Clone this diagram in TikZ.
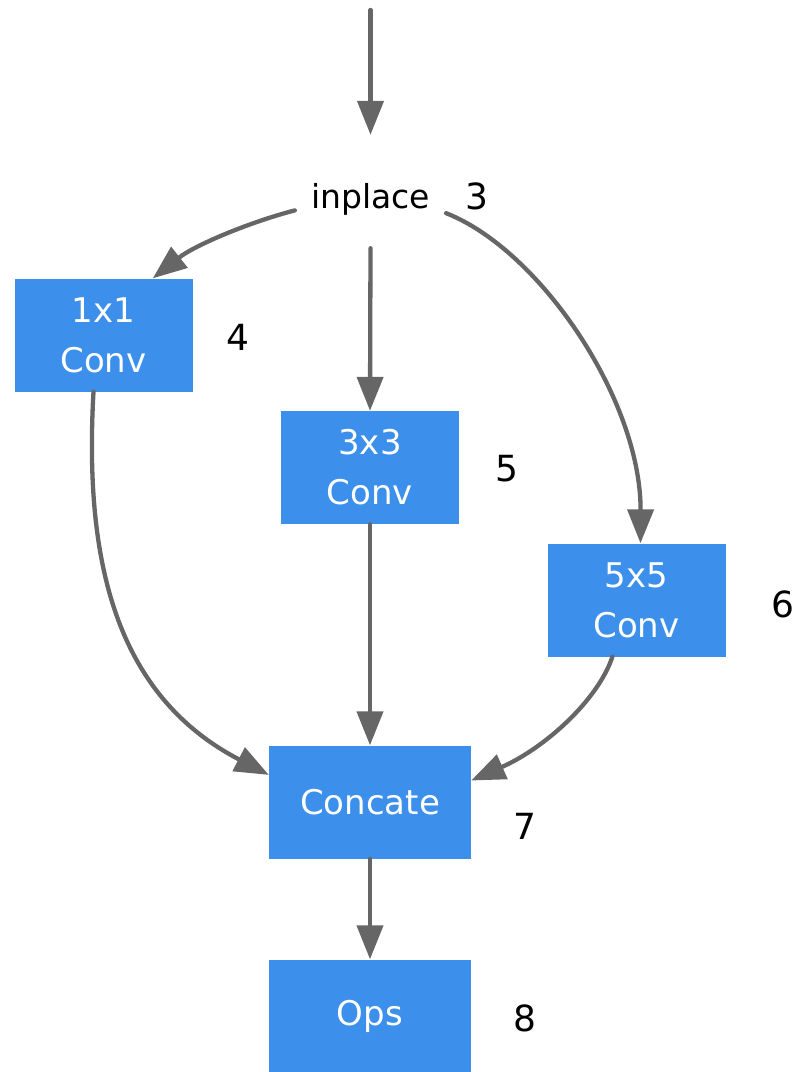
\documentclass[tikz,border=0pt]{standalone}
\usepackage{fontspec}
\setmainfont{DejaVu Sans}
\usetikzlibrary{arrows.meta}
\definecolor{boxblue}{HTML}{3C8FEA}
\definecolor{linegray}{HTML}{666666}
\tikzset{
  blk/.style={fill=boxblue, text=white, inner sep=0pt, align=center,
    font=\fontsize{34}{50}\selectfont},
  convbox/.style={blk, minimum width=178pt, minimum height=113pt},
  widebox/.style={blk, minimum width=202pt, minimum height=113pt},
  numlbl/.style={font=\fontsize{36}{36}\selectfont, text=black, inner sep=0pt},
  arr/.style={draw=linegray, line width=4.3pt, line cap=round,
    -{Triangle[length=34pt, width=26pt]}}
}
\begin{document}
\begin{tikzpicture}[x=1pt, y=-1pt]
\useasboundingbox (0,0) rectangle (799,1072);
\coordinate (top) at (370.5,10);
\node[anchor=base, inner sep=0pt, minimum width=151pt, text height=73pt, text depth=40pt,
  font=\fontsize{33}{33}\selectfont] (inplace) at (370.5,208) {inplace};
\node[convbox] (conv1) at (103.5,335) {1x1\\Conv};
\node[convbox] (conv3) at (370,467.5) {3x3\\Conv};
\node[convbox] (conv5) at (636.5,600) {5x5\\Conv};
\node[widebox] (concate) at (370,802) {Concate};
\node[widebox] (ops) at (370,1016) {Ops};
\node[numlbl] (n3) at (477,196) {3};
\node[numlbl] (n4) at (238,337) {4};
\node[numlbl] (n5) at (507,469) {5};
\node[numlbl] (n6) at (783,604) {6};
\node[numlbl] (n7) at (525,826) {7};
\node[numlbl] (n8) at (525,1018) {8};
\draw[arr] (top) -- (inplace.north);
\draw[arr] (inplace.south) -- (conv3.north);
\draw[arr] (conv3.south) -- (concate.north);
\draw[arr] (concate.south) -- (ops.north);
\draw[arr] (inplace.194.5) .. controls (250,222) and (195,245) .. (conv1.49);
\draw[arr] (inplace.344) .. controls (540,250) and (641,400) .. (conv5.86);
\draw[arr] (conv1.260) .. controls (84,560) and (115,695) .. (concate.165);
\draw[arr] (conv5.247) .. controls (598,700) and (545,748) .. (concate.12);
\end{tikzpicture}
\end{document}
